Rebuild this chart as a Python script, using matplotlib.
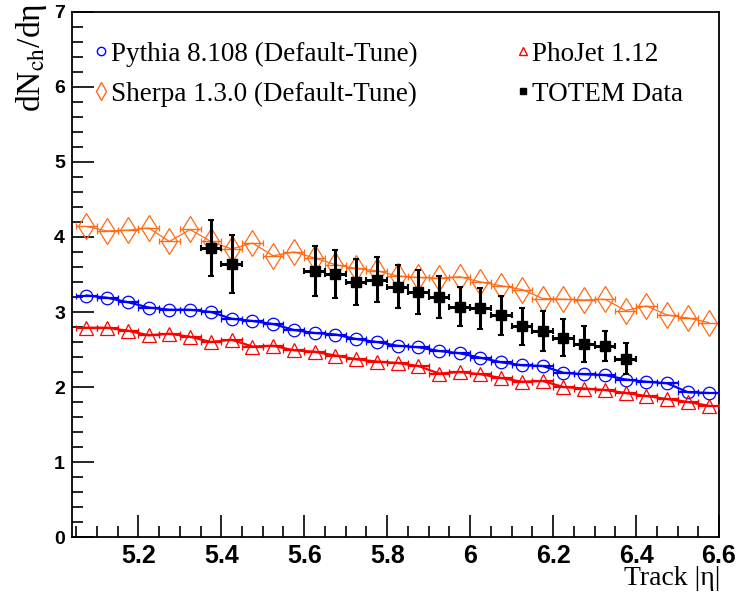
import matplotlib.pyplot as plt
from matplotlib.lines import Line2D
from matplotlib.ticker import MultipleLocator

# bin centres in |eta| for the MC curves
eta_mc = [5.075, 5.125, 5.175, 5.225, 5.275, 5.325, 5.375, 5.425, 5.475, 5.525,
          5.575, 5.625, 5.675, 5.725, 5.775, 5.825, 5.875, 5.925, 5.975, 6.025,
          6.075, 6.125, 6.175, 6.225, 6.275, 6.325, 6.375, 6.425, 6.475, 6.525,
          6.575]

pythia = [3.22, 3.19, 3.13, 3.06, 3.03, 3.03, 3.00, 2.91, 2.88, 2.84,
          2.76, 2.72, 2.70, 2.64, 2.60, 2.55, 2.53, 2.48, 2.45, 2.39,
          2.33, 2.29, 2.28, 2.19, 2.17, 2.16, 2.10, 2.07, 2.05, 1.93,
          1.92]

phojet = [2.79, 2.79, 2.75, 2.69, 2.71, 2.67, 2.60, 2.63, 2.54, 2.55,
          2.49, 2.47, 2.42, 2.37, 2.34, 2.32, 2.28, 2.18, 2.20, 2.17,
          2.12, 2.07, 2.08, 2.00, 1.98, 1.96, 1.92, 1.88, 1.84, 1.80,
          1.75]

sherpa = [4.14, 4.08, 4.09, 4.12, 3.94, 4.10, 3.94, 3.84, 3.92, 3.75,
          3.80, 3.72, 3.63, 3.58, 3.55, 3.48, 3.46, 3.45, 3.47, 3.40,
          3.35, 3.30, 3.18, 3.17, 3.16, 3.17, 3.02, 3.08, 2.96, 2.92,
          2.86]

# TOTEM measurement
eta_totem = [5.375, 5.425, 5.625, 5.675, 5.725, 5.775, 5.825, 5.875, 5.925,
             5.975, 6.025, 6.075, 6.125, 6.175, 6.225, 6.275, 6.325, 6.375]
totem = [3.85, 3.64, 3.55, 3.51, 3.40, 3.43, 3.34, 3.27, 3.20,
         3.07, 3.05, 2.96, 2.81, 2.75, 2.66, 2.58, 2.55, 2.38]
totem_err = [0.37, 0.38, 0.33, 0.32, 0.31, 0.30, 0.28, 0.29, 0.28,
             0.26, 0.27, 0.26, 0.25, 0.27, 0.25, 0.24, 0.20, 0.21]

xtick_vals = [5.2, 5.4, 5.6, 5.8, 6.0, 6.2, 6.4, 6.6]
xtick_text = ['5.2', '5.4', '5.6', '5.8', '6', '6.2', '6.4', '6.6']

bin_half = 0.025

col_pythia = '#0000ff'
col_phojet = '#ff0000'
col_sherpa = '#ff6a14'

plt.rcParams['mathtext.fontset'] = 'stix'

fig = plt.figure(figsize=(7.41, 5.93), dpi=100)
ax = fig.add_axes([0.0971, 0.0944, 0.8732, 0.8854])

# MC curves: markers + horizontal bin width + connecting line
ax.plot(eta_mc, sherpa, color=col_sherpa, lw=0.9, zorder=2)
ax.errorbar(eta_mc, sherpa, xerr=bin_half, fmt='d', color=col_sherpa,
            mfc='none', mec=col_sherpa, ms=13, mew=0.9, elinewidth=1.0,
            capsize=2.5, zorder=2)

ax.plot(eta_mc, pythia, color=col_pythia, lw=1.6, zorder=3)
ax.errorbar(eta_mc, pythia, xerr=bin_half, fmt='o', color=col_pythia,
            mfc='none', mec=col_pythia, ms=9, mew=0.9, elinewidth=1.6,
            capsize=2.5, zorder=3)

ax.plot(eta_mc, phojet, color=col_phojet, lw=1.6, zorder=3)
ax.errorbar(eta_mc, phojet, xerr=bin_half, fmt='^', color=col_phojet,
            mfc='none', mec=col_phojet, ms=10, mew=0.9, elinewidth=1.6,
            capsize=2.5, zorder=3)

ax.errorbar(eta_totem, totem, xerr=bin_half, yerr=totem_err, fmt='s',
            color='black', ms=6.5, elinewidth=2.2, capsize=2.5, capthick=1.5,
            zorder=5)

ax.set_xlim(5.04, 6.6)
ax.set_ylim(0, 7)

# ROOT-ish axes
ax.set_xticks(xtick_vals)
ax.set_xticklabels(xtick_text, fontfamily='Liberation Sans',
                   fontweight='bold', fontsize=18)
ax.xaxis.set_minor_locator(MultipleLocator(0.05))
ax.yaxis.set_major_locator(MultipleLocator(1))
ax.yaxis.set_minor_locator(MultipleLocator(0.2))
ax.tick_params(which='both', direction='in', top=False, right=False, width=1.2)
ax.tick_params(which='major', length=16)
ax.tick_params(which='minor', length=8)
ax.tick_params(axis='x', which='major', pad=5)
ax.tick_params(axis='y', which='major', pad=5)
for lab in ax.get_yticklabels():
    lab.set_fontfamily('Liberation Sans')
    lab.set_fontweight('bold')
    lab.set_fontsize(14)
for sp in ax.spines.values():
    sp.set_linewidth(1.3)

# axis titles, ROOT puts them at the ends of the axes
fig.text(0.042, 0.995, r'dN$_{\mathrm{ch}}$/dη', rotation=90,
         ha='center', va='top', fontfamily='Liberation Serif', fontsize=24)
fig.text(0.972, 0.003, 'Track |η|', ha='right', va='bottom',
         fontfamily='Liberation Serif', fontsize=20)

# legend
handles = [
    Line2D([], [], ls='none', marker='o', mfc='none', mec=col_pythia, ms=6),
    Line2D([], [], ls='none', marker='d', mfc='none', mec=col_sherpa, ms=9),
    Line2D([], [], ls='none', marker='^', mfc='none', mec=col_phojet, ms=6),
    Line2D([], [], ls='none', marker='s', color='black', ms=5),
]
labels = ['Pythia 8.108 (Default-Tune)', 'Sherpa 1.3.0 (Default-Tune)',
          'PhoJet 1.12', 'TOTEM Data']
ax.legend(handles, labels, ncol=2, loc='upper left',
          bbox_to_anchor=(-0.005, 0.99), frameon=False, handlelength=0.6,
          handletextpad=0.05, columnspacing=3.6, labelspacing=0.55,
          prop={'family': 'Liberation Serif', 'size': 19.5})

fig.savefig('out.png', dpi=100)
